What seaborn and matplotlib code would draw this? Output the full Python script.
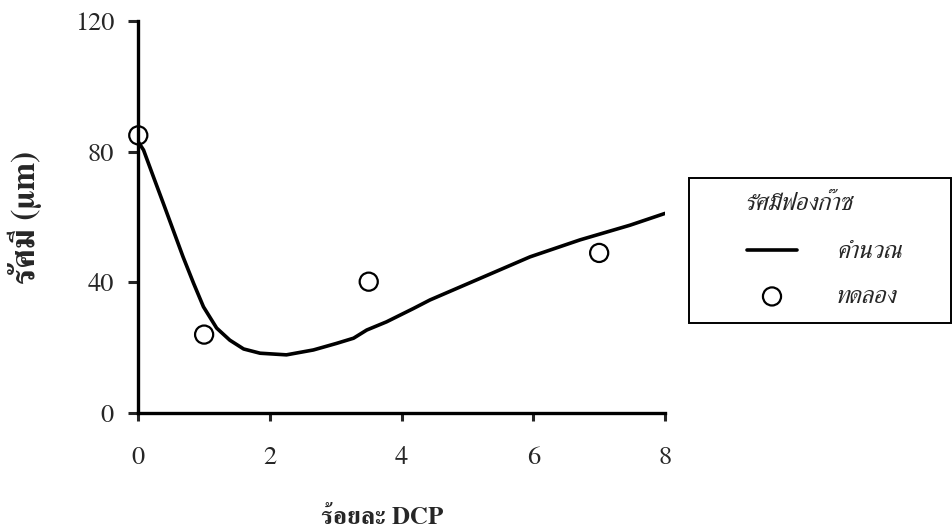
import matplotlib
matplotlib.use("Agg")
import matplotlib.pyplot as plt
from matplotlib.patches import Rectangle
import seaborn as sns
import pandas as pd

# Calculated bubble radius versus DCP content
calc_x = [0, 0.08, 0.23, 0.38, 0.53, 0.68, 0.84, 0.99, 1.19, 1.39, 1.6,
          1.85, 2.25, 2.66, 3.01, 3.27, 3.47, 3.77, 4.18, 4.43, 5.19, 5.95,
          6.71, 7.47, 8.0]
calc_y = [83, 80.5, 72.3, 64.2, 56.0, 47.8, 39.7, 32.5, 26.0, 22.3, 19.6,
          18.3, 17.8, 19.3, 21.3, 22.9, 25.4, 27.9, 32.0, 34.6, 41.2, 47.8,
          53.0, 57.5, 61.1]

# Measured bubble radius
exp_x = [0, 1, 3.5, 7]
exp_y = [85, 24, 40.2, 49]

x_ticks = [0, 2, 4, 6, 8]
y_ticks = [0, 40, 80, 120]

x_label = "ร้อยละ DCP"
y_label = "รัศมี (μm)"
legend_title = "รัศมีฟองก๊าซ"
calc_name = "คำนวณ"
exp_name = "ทดลอง"

sns.set_style("ticks")
fonts = ["FreeSerif", "Taviraj", "DejaVu Serif"]
plt.rcParams["font.family"] = fonts

calc = pd.DataFrame({"x": calc_x, "y": calc_y})
meas = pd.DataFrame({"x": exp_x, "y": exp_y})

W, H = 953, 532
fig = plt.figure(figsize=(W / 100, H / 100), dpi=100)
ax = fig.add_axes([0.1451, 0.2237, 0.5527, 0.7368])

sns.lineplot(data=calc, x="x", y="y", ax=ax, color="black", lw=2.6,
             label=calc_name, zorder=3)
sns.scatterplot(data=meas, x="x", y="y", ax=ax, marker="o", s=170,
                facecolor="none", edgecolor="black", linewidth=1.6,
                label=exp_name, zorder=4, clip_on=False)

ax.set_xlim(0, 8)
ax.set_ylim(0, 120)
ax.set_xticks(x_ticks)
ax.set_yticks(y_ticks)
ax.tick_params(axis="y", direction="out", length=7, width=2.2, pad=10.5,
               labelsize=19)
ax.tick_params(axis="x", direction="out", length=6, width=2.2, pad=18,
               labelsize=19)
for side in ("top", "right"):
    ax.spines[side].set_visible(False)
for side in ("left", "bottom"):
    ax.spines[side].set_linewidth(2.4)
    ax.spines[side].set_color("black")

ax.set_xlabel(x_label, fontsize=18, fontweight="bold")
ax.set_ylabel(y_label, fontsize=24, fontweight="bold")
ax.xaxis.set_label_coords((382 - 138.3) / 526.7, (413 - 518) / 392)
ax.xaxis.label.set_va("center")
ax.yaxis.set_label_coords((25 - 138.3) / 526.7, 0.5)
ax.yaxis.label.set_va("center")

# legend entries, with the heading and box drawn in figure space
leg = ax.legend(
    loc="upper left",
    bbox_to_anchor=(747 / W, 1 - 241 / H),
    bbox_transform=fig.transFigure,
    prop={"family": fonts, "style": "italic", "size": 18},
    frameon=False,
    handlelength=2.0, handletextpad=1.6, borderpad=0,
    labelspacing=0.88, borderaxespad=0,
)
fig.text(800 / W, 1 - 204 / H, legend_title, ha="center", va="center",
         family=fonts, style="italic", fontsize=18)
fig.add_artist(Rectangle((689 / W, 1 - 323 / H), (951 - 689) / W,
                         (323 - 178) / H, transform=fig.transFigure,
                         fill=False, edgecolor="black", linewidth=1.4))

fig.savefig("out.png", dpi=100, facecolor="white")
